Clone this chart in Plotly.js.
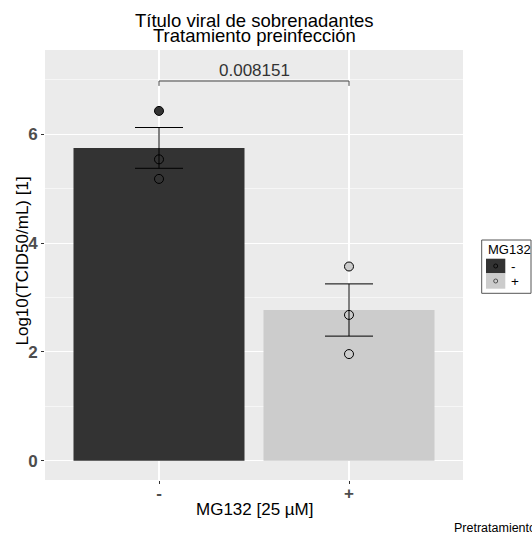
<!DOCTYPE html>
<html>
<head>
<meta charset="utf-8">
<script src="https://cdn.plot.ly/plotly-3.0.1.min.js"></script>
<style>html,body{margin:0;padding:0;background:#fff;}#chart{width:532px;height:533px;}</style>
</head>
<body>
<div id="chart"></div>
<script>
// ---- data ----
const categories = ["-", "+"];
const meanValues = [5.75, 2.77];
const seValues = [0.375, 0.48];
const pointsMinus = [6.43, 5.54, 5.18];
const pointsPlus = [3.57, 2.68, 1.96];
const pValueLabel = "0.008151";
const bracketY = 6.98;
const barColors = ["#333333", "#CCCCCC"];
const legendTitle = "MG132";
const titleLines = ["Título viral de sobrenadantes", "Tratamiento preinfección"];
const xTitle = "MG132 [25 µM]";
const yTitle = "Log10(TCID50/mL) [1]";
const captionText = "Pretratamiento";

const FONT = "Liberation Sans, Arial, sans-serif";

const traces = [
  {
    type: "bar",
    x: categories,
    y: meanValues,
    width: 0.9,
    marker: { color: barColors, line: { width: 0 } },
    hoverinfo: "skip",
    showlegend: false
  },
  {
    type: "scatter", mode: "markers",
    x: pointsMinus.map(() => categories[0]),
    y: pointsMinus,
    marker: { size: 9, color: barColors[0], line: { color: "#000", width: 1 } },
    showlegend: false
  },
  {
    type: "scatter", mode: "markers",
    x: pointsPlus.map(() => categories[1]),
    y: pointsPlus,
    marker: { size: 9, color: barColors[1], line: { color: "#000", width: 1 } },
    showlegend: false
  },
  {
    type: "scatter", mode: "markers",
    x: categories,
    y: meanValues,
    marker: { size: 1, opacity: 0 },
    error_y: { type: "data", array: seValues, visible: true, color: "#000", thickness: 1, width: 24 },
    showlegend: false,
    hoverinfo: "skip"
  }
];

// paper-coordinate helpers for layout decorations (plot area 45..463 x, 50..480 y)
const px = v => (v - 45) / 418;
const py = v => (480 - v) / 430;

const shapes = [
  { type: "path", xref: "x", yref: "y",
    path: `M 0 ${bracketY - 0.09} L 0 ${bracketY} L 1 ${bracketY} L 1 ${bracketY - 0.09}`,
    line: { color: "#444", width: 1 } },
  // legend box
  { type: "rect", xref: "paper", yref: "paper", x0: px(481.7), x1: px(531), y0: py(293.3), y1: py(240),
    line: { color: "#555", width: 1 }, fillcolor: "#fff" },
  { type: "rect", xref: "paper", yref: "paper", x0: px(486), x1: px(505.3), y0: py(273.3), y1: py(258.7),
    line: { width: 0 }, fillcolor: barColors[0] },
  { type: "rect", xref: "paper", yref: "paper", x0: px(486), x1: px(505.3), y0: py(288.7), y1: py(273.3),
    line: { width: 0 }, fillcolor: barColors[1] },
  { type: "circle", xref: "paper", yref: "paper", x0: px(493.7), x1: px(497.7), y0: py(268), y1: py(264),
    line: { color: "#000", width: 0.8 }, fillcolor: barColors[0] },
  { type: "circle", xref: "paper", yref: "paper", x0: px(493.7), x1: px(497.7), y0: py(283), y1: py(279),
    line: { color: "#333", width: 0.8 }, fillcolor: barColors[1] }
];

const annotations = [
  { text: titleLines[0], xref: "paper", yref: "paper", x: px(255), y: py(21), xanchor: "center", yanchor: "middle",
    showarrow: false, font: { family: FONT, size: 18.5, color: "#000" } },
  { text: titleLines[1], xref: "paper", yref: "paper", x: px(255), y: py(35.6), xanchor: "center", yanchor: "middle",
    showarrow: false, font: { family: FONT, size: 18.5, color: "#000" } },
  { text: pValueLabel, xref: "x", yref: "y", x: 0.5, y: 7.17, xanchor: "center", yanchor: "middle",
    showarrow: false, font: { family: FONT, size: 17, color: "#333" } },
  { text: xTitle, xref: "paper", yref: "paper", x: px(255), y: py(510), xanchor: "center", yanchor: "middle",
    showarrow: false, font: { family: FONT, size: 17, color: "#000" } },
  { text: yTitle, xref: "paper", yref: "paper", x: px(21.5), y: py(261), xanchor: "center", yanchor: "middle",
    textangle: -90, showarrow: false, font: { family: FONT, size: 17, color: "#000" } },
  { text: captionText, xref: "paper", yref: "paper", x: px(452), y: py(528), xanchor: "left", yanchor: "middle",
    showarrow: false, font: { family: FONT, size: 12.5, color: "#000" } },
  { text: legendTitle, xref: "paper", yref: "paper", x: px(486), y: py(249), xanchor: "left", yanchor: "middle",
    showarrow: false, font: { family: FONT, size: 13, color: "#000" } },
  { text: categories[0], xref: "paper", yref: "paper", x: px(508.5), y: py(266), xanchor: "left", yanchor: "middle",
    showarrow: false, font: { family: FONT, size: 13.5, color: "#000" } },
  { text: categories[1], xref: "paper", yref: "paper", x: px(508.5), y: py(281), xanchor: "left", yanchor: "middle",
    showarrow: false, font: { family: FONT, size: 13.5, color: "#000" } }
];

const layout = {
  width: 532, height: 533,
  margin: { l: 45, r: 69, t: 50, b: 53, pad: 0 },
  paper_bgcolor: "#fff",
  plot_bgcolor: "#EBEBEB",
  showlegend: false,
  xaxis: {
    type: "category", categoryorder: "array", categoryarray: categories,
    range: [-0.6, 1.6], showgrid: true, gridcolor: "#fff", gridwidth: 1.1,
    zeroline: false, showline: false,
    ticks: "outside", ticklen: 3, tickcolor: "#333", tickwidth: 1,
    ticklabelstandoff: -5,
    tickfont: { family: FONT, size: 17, color: "#4D4D4D", weight: "bold" }
  },
  yaxis: {
    range: [-0.355, 7.55], tick0: 0, dtick: 2,
    showgrid: true, gridcolor: "#fff", gridwidth: 1.1,
    minor: { dtick: 1, tick0: 0, showgrid: true, gridcolor: "#fff", gridwidth: 0.55, ticks: "" },
    zeroline: false, showline: false,
    ticks: "outside", ticklen: 3, tickcolor: "#333", tickwidth: 1,
    tickfont: { family: FONT, size: 17, color: "#4D4D4D", weight: "bold" }
  },
  shapes: shapes,
  annotations: annotations
};

Plotly.newPlot("chart", traces, layout, { staticPlot: true, displayModeBar: false });
</script>
</body>
</html>
